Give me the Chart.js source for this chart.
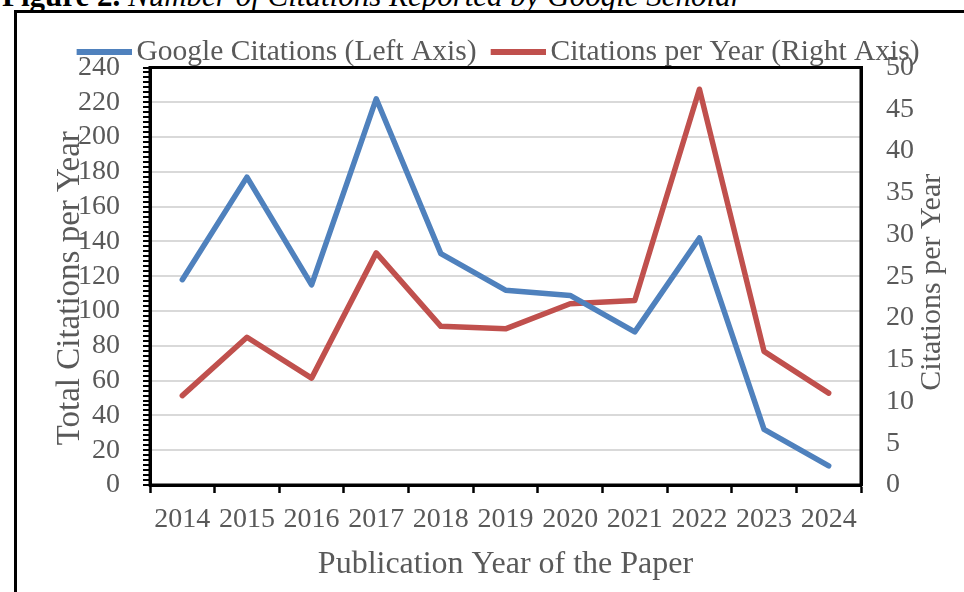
<!DOCTYPE html>
<html>
<head>
<meta charset="utf-8">
<script src="https://cdn.jsdelivr.net/npm/chart.js@4.4.0/dist/chart.umd.min.js"></script>
<style>
  html, body { margin: 0; padding: 0; background: #fff; overflow: hidden; }
  #wrap { position: relative; width: 964px; height: 592px; overflow: hidden; background: #fff; }
  #caption { position: absolute; left: 2px; top: -20px; font-family: 'Liberation Serif', 'Times New Roman', serif; font-size: 31px; line-height: 31px; color: #000; white-space: nowrap; }
  #caption b { font-weight: bold; }
  #caption i { font-style: italic; }
  #frame { position: absolute; left: 14px; top: 10px; width: 1100px; height: 800px; border: 3px solid #000; box-sizing: border-box; }
  #c { position: absolute; left: 0; top: 0; }
</style>
</head>
<body>
<div id="wrap">
  <div id="caption"><b>Figure 2.</b> <i>Number of Citations Reported by Google Scholar</i></div>
  <div id="frame"></div>
  <canvas id="c" width="964" height="592"></canvas>
</div>
<script>
// ---- data ----
const years = ['2014', '2015', '2016', '2017', '2018', '2019', '2020', '2021', '2022', '2023', '2024'];
const googleCitations = [118, 177, 115, 222, 133, 112, 109, 88, 142, 32, 11];
const citationsPerYear = [10.7, 17.7, 12.8, 27.8, 19.0, 18.7, 21.7, 22.1, 47.4, 16.0, 11.0];
const seriesNames = ['Google Citations (Left Axis)', 'Citations per Year (Right Axis)'];
const leftAxisTitle = 'Total Citations per Year';
const rightAxisTitle = 'Citations per Year';
const xAxisTitle = 'Publication Year of the Paper';

const FONT = "'Liberation Serif', 'Times New Roman', serif";
const GREY = '#595959';
const BLUE = '#4F81BD';
const RED = '#C0504D';
const LEGEND_FS = 29.5;

// legend sample: a thick line drawn in an image with transparent lead-in
function sampleImage(color) {
  const cv = document.createElement('canvas');
  cv.width = 77; cv.height = 6;
  const g = cv.getContext('2d');
  g.fillStyle = color;
  g.fillRect(22, 0, 55, 6);
  return cv;
}

const plotFrame = {
  id: 'plotFrame',
  afterLayout(chart) {
    // legend drawn a little lower than its reserved box, overlapping nothing
    if (chart.legend) { chart.legend.top += 9; chart.legend.bottom += 9; }
  },
  afterDatasetsDraw(chart) {
    const a = chart.chartArea, ctx = chart.ctx;
    ctx.save();
    ctx.strokeStyle = '#000';
    ctx.lineWidth = 3;
    ctx.strokeRect(a.left, a.top, a.right - a.left, a.bottom - a.top);
    ctx.restore();
  }
};

const axisTitles = {
  id: 'axisTitles',
  afterDraw(chart) {
    const a = chart.chartArea, ctx = chart.ctx;
    const midY = (a.top + a.bottom) / 2;
    ctx.save();
    ctx.fillStyle = GREY;
    ctx.textAlign = 'center';
    ctx.textBaseline = 'middle';
    // left
    ctx.save();
    ctx.font = '33px ' + FONT;
    ctx.translate(chart.scales.y.left + 50, midY + 12);
    ctx.rotate(-Math.PI / 2);
    ctx.fillText(leftAxisTitle, 0, 0);
    ctx.restore();
    // right
    ctx.save();
    ctx.font = '30px ' + FONT;
    ctx.translate(chart.scales.y1.left + 71, midY + 6);
    ctx.rotate(-Math.PI / 2);
    ctx.fillText(rightAxisTitle, 0, 0);
    ctx.restore();
    ctx.restore();
  }
};

new Chart(document.getElementById('c'), {
  type: 'line',
  data: {
    labels: years,
    datasets: [
      { label: seriesNames[0], data: googleCitations, yAxisID: 'y',
        borderColor: BLUE, backgroundColor: BLUE, borderWidth: 5.5,
        pointRadius: 0, tension: 0, borderCapStyle: 'round', borderJoinStyle: 'round' },
      { label: seriesNames[1], data: citationsPerYear, yAxisID: 'y1',
        borderColor: RED, backgroundColor: RED, borderWidth: 5.5,
        pointRadius: 0, tension: 0, borderCapStyle: 'round', borderJoinStyle: 'round' }
    ]
  },
  options: {
    responsive: false,
    animation: false,
    layout: { padding: { left: 20, right: 0, top: 26, bottom: 0 } },
    plugins: {
      tooltip: { enabled: false },
      legend: {
        position: 'top',
        labels: {
          font: { family: FONT, size: LEGEND_FS },
          color: GREY,
          usePointStyle: true,
          pointStyleWidth: 57.25,
          boxHeight: 6,
          padding: 2,
          generateLabels(chart) {
            return chart.data.datasets.map((d, i) => ({
              text: d.label, fillStyle: d.borderColor, strokeStyle: d.borderColor,
              lineWidth: 0, hidden: false, datasetIndex: i, fontColor: GREY,
              pointStyle: sampleImage(d.borderColor)
            }));
          }
        }
      }
    },
    scales: {
      x: {
        type: 'category',
        offset: true,
        grid: { offset: true, drawOnChartArea: false, tickLength: 8, tickColor: '#000', tickWidth: 2.5 },
        border: { color: '#000', width: 3 },
        ticks: { font: { family: FONT, size: 28 }, color: GREY, maxRotation: 0, autoSkip: false, padding: 10 },
        title: { display: true, text: xAxisTitle, font: { family: FONT, size: 32 }, color: GREY, padding: { top: 0, bottom: 8 } },
        afterFit(s) { s.height = 107; }
      },
      y: {
        position: 'left',
        min: 0, max: 240,
        afterBuildTicks(s) {
          const t = [];
          for (let i = 0; i <= 84; i++) t.push({ value: i * 240 / 84 });
          s.ticks = t;
        },
        grid: {
          color: (c) => {
            const v = c.tick ? c.tick.value : 0;
            const r = Math.abs(v / 20 - Math.round(v / 20));
            return (r < 1e-6 && v > 0.5 && v < 239.5) ? '#d9d9d9' : 'rgba(0,0,0,0)';
          },
          lineWidth: 2,
          tickColor: '#000', tickWidth: 2, tickLength: 7
        },
        border: { color: '#000', width: 3 },
        ticks: {
          autoSkip: false,
          font: { family: FONT, size: 28 }, color: GREY, padding: 23,
          callback: (v) => {
            const r = Math.abs(v / 20 - Math.round(v / 20));
            return r < 1e-6 ? String(Math.round(v)) : '';
          }
        },
        afterFit(s) { s.width = 130; }
      },
      y1: {
        position: 'right',
        min: 0, max: 50,
        grid: { drawOnChartArea: false, drawTicks: false },
        border: { color: '#000', width: 3 },
        ticks: { stepSize: 5, font: { family: FONT, size: 28 }, color: GREY, padding: 25 },
        afterFit(s) { s.width = 103; }
      }
    }
  },
  plugins: [plotFrame, axisTitles]
});
</script>
</body>
</html>
